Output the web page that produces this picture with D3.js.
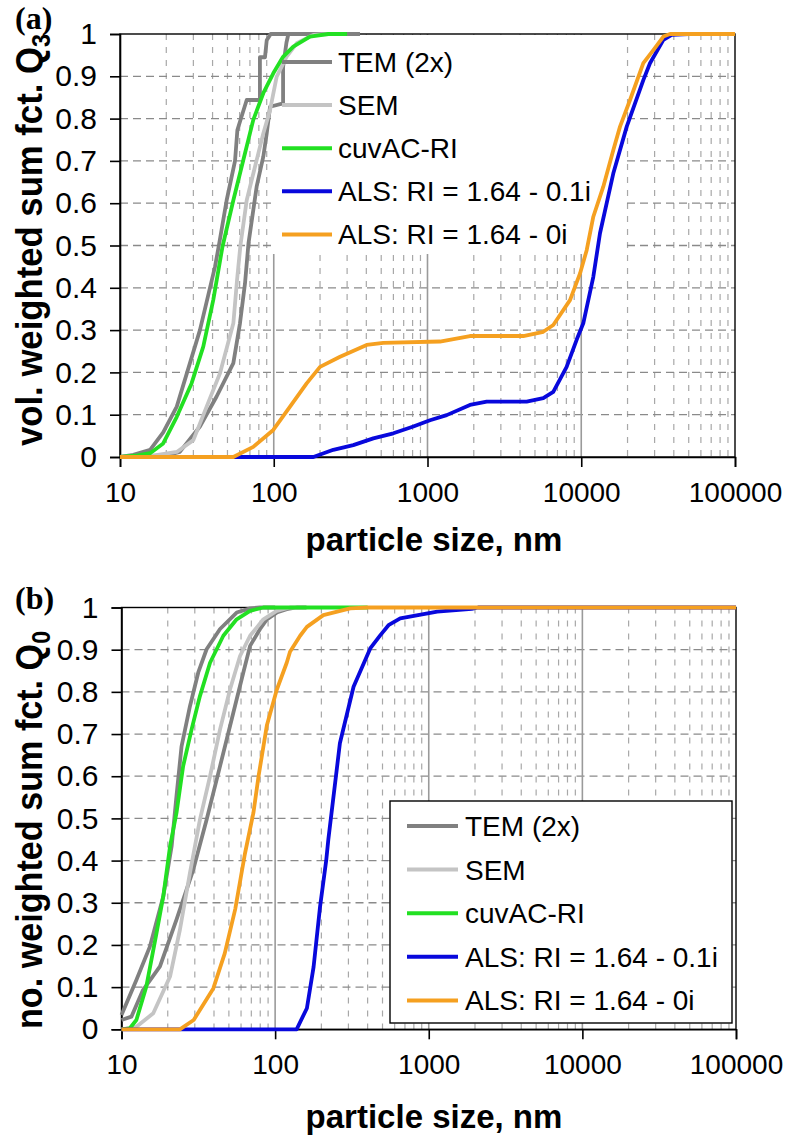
<!DOCTYPE html>
<html>
<head>
<meta charset="utf-8">
<script src="https://cdn.jsdelivr.net/npm/d3@7"></script>
<style>
  html, body { margin: 0; padding: 0; background: #fff; }
  svg { display: block; }
  text { font-family: "Liberation Sans", Arial, sans-serif; }
</style>
</head>
<body>
<svg id="chart" width="787" height="1136"></svg>
<script>
// ---------- data ----------
const xTickValues = [10, 100, 1000, 10000, 100000];
const yTickValues = [0, 0.1, 0.2, 0.3, 0.4, 0.5, 0.6, 0.7, 0.8, 0.9, 1];
const legendLabels = ["TEM (2x)", "SEM", "cuvAC-RI", "ALS: RI = 1.64 - 0.1i", "ALS: RI = 1.64 - 0i"];
const seriesColors = ["#808080", "#c4c4c4", "#22e022", "#0808dc", "#f5a020"];
const xTitle = "particle size, nm";

// panel (a): volume weighted sum function Q3  [size nm, Q]
const a_tem1 = [[10,0],[12.2,0.005],[15.7,0.017],[19.1,0.058],[23.4,0.119],[28.5,0.222],[33.1,0.30],[38.2,0.395],[41.5,0.45],[44.2,0.505],[49.4,0.607],[56,0.70],[58,0.773],[66.7,0.844],[81.3,0.844],[81.3,0.945],[87.7,0.945],[90,0.985],[95.5,1.0],[363,1.0]];
const a_tem2 = [[10,0],[20,0.004],[24.5,0.012],[33.1,0.072],[42.5,0.143],[54.6,0.222],[60.3,0.316],[65,0.41],[68.5,0.505],[77.4,0.639],[85.5,0.71],[90,0.765],[94.6,0.828],[115,0.836],[115,0.922],[121,0.98],[124.5,1.0],[363,1.0]];
const a_sem = [[10,0],[16.4,0.003],[23.4,0.012],[30,0.04],[36.6,0.119],[44.7,0.198],[54.6,0.316],[57.7,0.418],[60.7,0.5],[66.7,0.607],[75.5,0.686],[85.5,0.765],[94.6,0.82],[104.5,0.899],[121,0.946],[141,0.978],[181,0.998],[232,1.0]];
const a_cuv = [[10,0],[13,0.004],[15.7,0.009],[19.1,0.032],[23.4,0.095],[29.2,0.174],[34.8,0.261],[40.4,0.371],[46.4,0.497],[54.6,0.607],[63.4,0.702],[73.6,0.797],[85.5,0.86],[99.3,0.907],[115,0.946],[134,0.97],[172,0.994],[226,1.0],[300,1.0]];
const a_als1 = [[10,0],[181,0],[244,0.017],[329,0.028],[444,0.044],[600,0.056],[809,0.072],[1038,0.087],[1333,0.099],[1888,0.123],[2426,0.131],[4415,0.131],[5662,0.139],[6577,0.154],[8035,0.213],[9332,0.277],[10310,0.316],[11980,0.426],[13240,0.529],[16150,0.67],[19760,0.781],[25330,0.891],[27990,0.931],[34210,0.986],[38730,0.998],[50000,1.0],[100000,1.0]];
const a_als0 = [[10,0],[54.6,0],[73.6,0.024],[99.3,0.064],[127.6,0.119],[163.7,0.174],[200,0.213],[270,0.237],[402,0.265],[516,0.27],[1205,0.273],[1888,0.286],[4198,0.286],[5662,0.296],[6577,0.312],[8450,0.371],[9820,0.434],[10850,0.489],[11980,0.568],[13910,0.639],[16170,0.726],[17870,0.781],[20760,0.844],[25330,0.931],[29430,0.962],[34210,0.994],[37780,1.0],[100000,1.0]];

// panel (b): number weighted sum function Q0  [size nm, Q]
const b_tem1 = [[10,0.034],[12.5,0.117],[15.3,0.196],[18.7,0.315],[21.2,0.434],[22.8,0.553],[24.6,0.671],[27.9,0.766],[31.6,0.846],[35.8,0.901],[43.8,0.949],[56.2,0.988],[68.7,0.998],[79.8,1.0],[100,1.0]];
const b_tem2 = [[10,0.022],[11.6,0.030],[13.8,0.093],[17.8,0.149],[22.8,0.26],[29.3,0.378],[35.8,0.497],[43.8,0.624],[53.5,0.751],[62.1,0.846],[68.7,0.909],[79.8,0.949],[88.3,0.972],[102.5,0.988],[119,0.996],[138,1.0],[160,1.0]];
const b_sem = [[10,0],[12.5,0.006],[16.1,0.038],[20.7,0.125],[24,0.236],[27.9,0.371],[32.4,0.497],[37.7,0.6],[43.8,0.711],[50.9,0.806],[59.1,0.885],[68.7,0.933],[83.9,0.972],[102.5,0.992],[125,1.0],[150,1.0]];
const b_cuv = [[10,0],[11.3,0.002],[12.5,0.022],[14.5,0.101],[16.9,0.228],[18.7,0.315],[20.7,0.434],[22.8,0.513],[25.2,0.624],[28.6,0.711],[32.4,0.79],[37.7,0.869],[46,0.933],[56.2,0.972],[68.7,0.992],[83.9,1.0],[400,1.0]];
const b_als1 = [[10,0],[138,0],[161,0.05],[178,0.148],[196,0.29],[215,0.40],[222,0.45],[264,0.678],[324,0.812],[416,0.903],[483,0.934],[547,0.958],[652,0.974],[1135,0.99],[1905,0.997],[2100,1.0],[100000,1.0]];
const b_als0 = [[10,0],[24,0],[29.5,0.022],[39.6,0.097],[47,0.18],[55,0.285],[63.5,0.415],[72.2,0.513],[78,0.6],[88.3,0.72],[102.5,0.805],[119,0.869],[125,0.895],[145.5,0.933],[161,0.954],[206,0.982],[308,0.998],[400,1.0],[100000,1.0]];

// ---------- drawing ----------
const svg = d3.select("#chart");

function drawPanel(cfg) {
  const x = d3.scaleLog().domain([10, 100000]).range([cfg.left, cfg.right]);
  const y = d3.scaleLinear().domain([0, 1]).range([cfg.bottom, cfg.top]);
  const g = svg.append("g");

  // minor vertical gridlines
  const minor = [];
  [10, 100, 1000, 10000].forEach(d => { for (let k = 2; k <= 9; k++) minor.push(d * k); });
  g.append("g").selectAll("line").data(minor).join("line")
    .attr("x1", d => x(d)).attr("x2", d => x(d))
    .attr("y1", y(1)).attr("y2", y(0))
    .attr("stroke", "#a8a8a8").attr("stroke-width", 1.2)
    .attr("stroke-dasharray", "6,7");
  // horizontal gridlines
  g.append("g").selectAll("line").data(yTickValues.filter(v => v > 0 && v < 1)).join("line")
    .attr("x1", x(10)).attr("x2", x(100000))
    .attr("y1", d => y(d)).attr("y2", d => y(d))
    .attr("stroke", "#8a8a8a").attr("stroke-width", 1.3)
    .attr("stroke-dasharray", "8,5");
  // major vertical gridlines
  g.append("g").selectAll("line").data([100, 1000, 10000]).join("line")
    .attr("x1", d => x(d)).attr("x2", d => x(d))
    .attr("y1", y(1)).attr("y2", y(0))
    .attr("stroke", "#9a9a9a").attr("stroke-width", 1.6);

  // legend background that hides gridlines (panel a: under curves)
  if (cfg.legendUnder) {
    g.append("rect")
      .attr("x", cfg.legendUnder[0]).attr("y", cfg.legendUnder[1])
      .attr("width", cfg.legendUnder[2]).attr("height", cfg.legendUnder[3])
      .attr("fill", "#fff");
  }

  // frame
  g.append("rect")
    .attr("x", x(10)).attr("y", y(1))
    .attr("width", x(100000) - x(10)).attr("height", y(0) - y(1))
    .attr("fill", "none").attr("stroke", "#000").attr("stroke-width", 1.4);

  // axes
  const yAxis = g.append("g").attr("transform", `translate(${x(10)},0)`)
    .call(d3.axisLeft(y).tickValues(yTickValues).tickSize(10).tickPadding(13)
      .tickFormat(d => d === 0 ? "0" : d === 1 ? "1" : d3.format(".1f")(d)));
  const xAxis = g.append("g").attr("transform", `translate(0,${y(0)})`)
    .call(d3.axisBottom(x).tickValues(xTickValues).tickSize(10).tickPadding(15)
      .tickFormat(d3.format("d")));
  [yAxis, xAxis].forEach((ax, i) => {
    ax.select(".domain").attr("stroke", "#000").attr("stroke-width", 1.6);
    ax.selectAll(".tick line").attr("stroke", "#000").attr("stroke-width", 1.6);
    ax.selectAll(".tick text").attr("fill", "#000")
      .style("font-family", '"Liberation Sans", Arial, sans-serif')
      .style("font-size", i === 0 ? "30px" : "28px");
  });

  // curves
  const line = d3.line().x(d => x(d[0])).y(d => y(d[1]));
  cfg.series.forEach(s => {
    g.append("path").datum(s.data)
      .attr("d", line).attr("fill", "none")
      .attr("stroke", seriesColors[s.color]).attr("stroke-width", 3.8)
      .attr("stroke-linejoin", "round");
  });

  // legend
  const lg = g.append("g");
  if (cfg.legendBox) {
    lg.append("rect")
      .attr("x", cfg.legendBox[0]).attr("y", cfg.legendBox[1])
      .attr("width", cfg.legendBox[2]).attr("height", cfg.legendBox[3])
      .attr("fill", "#fff").attr("stroke", "#000").attr("stroke-width", 1.4);
  }
  legendLabels.forEach((lab, i) => {
    const yy = cfg.legendY0 + i * cfg.legendStep;
    lg.append("line")
      .attr("x1", cfg.legendX[0]).attr("x2", cfg.legendX[1])
      .attr("y1", yy).attr("y2", yy)
      .attr("stroke", seriesColors[i]).attr("stroke-width", 4);
    lg.append("text")
      .attr("x", cfg.legendX[2]).attr("y", yy + 10)
      .style("font-size", "28px").attr("fill", "#000")
      .text(lab);
  });

  // x title
  g.append("text")
    .attr("x", 434).attr("y", cfg.xTitleY)
    .attr("text-anchor", "middle")
    .style("font-size", "33px").style("font-weight", "bold")
    .text(xTitle);

  // y title
  const yt = g.append("text")
    .attr("transform", `translate(${cfg.yTitleX},${cfg.yTitleMid}) rotate(-90)`)
    .attr("text-anchor", "middle")
    .attr("textLength", cfg.yTitleLen).attr("lengthAdjust", "spacingAndGlyphs")
    .style("font-size", "37px").style("font-weight", "bold");
  yt.append("tspan").text(cfg.yTitle);
  yt.append("tspan").attr("dy", 8).style("font-size", "25px").text(cfg.yTitleSub);

  // panel label
  g.append("text")
    .attr("x", 15).attr("y", cfg.labelY)
    .style("font-family", '"Liberation Serif", "Times New Roman", serif')
    .style("font-size", "32px").style("font-weight", "bold")
    .text(cfg.label);
}

drawPanel({
  left: 120, right: 735, top: 34, bottom: 457,
  series: [
    {data: a_tem1, color: 0}, {data: a_tem2, color: 0}, {data: a_sem, color: 1},
    {data: a_cuv, color: 2}, {data: a_als1, color: 3}, {data: a_als0, color: 4}
  ],
  legendUnder: [272, 35, 350, 219],
  legendBox: null,
  legendX: [282, 332, 338], legendY0: 62, legendStep: 43.1,
  xTitleY: 551, yTitleX: 42, yTitleMid: 240, yTitleLen: 412,
  yTitle: "vol. weighted sum fct. Q", yTitleSub: "3",
  label: "(a)", labelY: 29
});

drawPanel({
  left: 121.5, right: 736, top: 607.5, bottom: 1029.3,
  series: [
    {data: b_tem1, color: 0}, {data: b_tem2, color: 0}, {data: b_sem, color: 1},
    {data: b_cuv, color: 2}, {data: b_als1, color: 3}, {data: b_als0, color: 4}
  ],
  legendUnder: null,
  legendBox: [390, 801, 342, 222],
  legendX: [407, 458, 465], legendY0: 826, legendStep: 43.6,
  xTitleY: 1128, yTitleX: 42, yTitleMid: 830, yTitleLen: 398,
  yTitle: "no. weighted sum fct. Q", yTitleSub: "0",
  label: "(b)", labelY: 609
});
</script>
</body>
</html>
